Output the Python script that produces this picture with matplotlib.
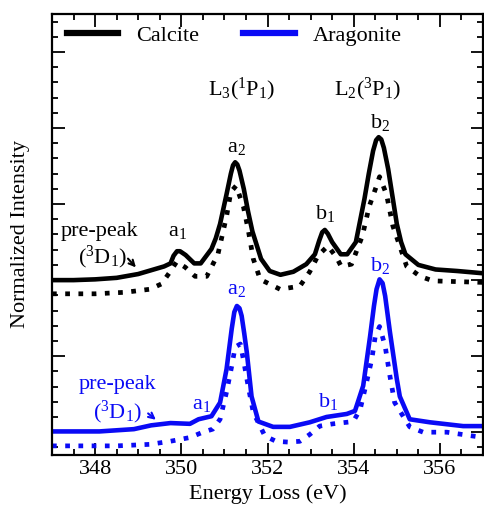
import numpy as np
import matplotlib
matplotlib.use("Agg")
import matplotlib.pyplot as plt
from matplotlib.ticker import MultipleLocator

plt.rcParams['font.family'] = ['Liberation Serif', 'DejaVu Serif']
plt.rcParams['mathtext.default'] = 'regular'

# Calcite, solid line
cal_e = [347.0, 347.5, 348.0, 348.5, 349.0, 349.3, 349.6, 349.75, 349.82, 349.9,
         349.97, 350.1, 350.3, 350.45, 350.7, 350.8, 350.9, 351.05, 351.15, 351.2,
         351.25, 351.3, 351.35, 351.45, 351.55, 351.65, 351.85, 352.05, 352.3, 352.6,
         352.9, 353.1, 353.2, 353.27, 353.33, 353.4, 353.5, 353.7, 353.85, 354.05,
         354.25, 354.35, 354.45, 354.52, 354.58, 354.64, 354.7, 354.8, 354.9, 355.0,
         355.1, 355.2, 355.5, 355.9, 356.4, 357.0]
cal_i = [2.00, 2.00, 2.01, 2.03, 2.08, 2.13, 2.18, 2.22, 2.32, 2.38,
         2.38, 2.33, 2.22, 2.22, 2.41, 2.55, 2.74, 3.13, 3.40, 3.51,
         3.55, 3.52, 3.44, 3.20, 2.90, 2.64, 2.28, 2.12, 2.07, 2.11,
         2.21, 2.34, 2.52, 2.63, 2.66, 2.61, 2.50, 2.34, 2.34, 2.50,
         3.07, 3.40, 3.70, 3.84, 3.88, 3.85, 3.74, 3.46, 3.10, 2.74,
         2.50, 2.34, 2.20, 2.14, 2.12, 2.09]

# Calcite, dotted line
cal_e2 = [347.0, 348.0, 348.7, 349.27, 349.54, 349.74, 349.89, 350.09, 350.32, 350.59,
          350.85, 351.05, 351.15, 351.27, 351.44, 351.55, 351.67, 351.83, 352.29, 352.75,
          352.98, 353.17, 353.4, 353.6, 353.71, 353.95, 354.2, 354.36, 354.53, 354.6,
          354.76, 354.91, 355.23, 355.54, 355.84, 357.0]
cal_i2 = [1.82, 1.82, 1.84, 1.88, 1.95, 2.11, 2.24, 2.17, 2.05, 2.05,
          2.34, 2.84, 3.16, 3.24, 2.97, 2.67, 2.28, 2.01, 1.88, 1.92,
          2.11, 2.32, 2.45, 2.30, 2.18, 2.21, 2.58, 2.97, 3.24, 3.36,
          3.13, 2.71, 2.18, 2.05, 1.99, 1.97]

# Aragonite, solid line
ara_e = [347.0, 348.1, 348.9, 349.3, 349.75, 350.2, 350.4, 350.7, 350.9, 351.05,
         351.17, 351.23, 351.29, 351.35, 351.4, 351.46, 351.52, 351.63, 351.79, 352.13,
         352.52, 352.98, 353.37, 353.84, 354.03, 354.22, 354.38, 354.47, 354.53, 354.6,
         354.67, 354.73, 354.84, 355.0, 355.07, 355.3, 355.77, 356.54, 357.0]
ara_i = [0.01, 0.01, 0.04, 0.09, 0.12, 0.11, 0.17, 0.21, 0.39, 0.83,
         1.36, 1.58, 1.66, 1.63, 1.53, 1.30, 1.05, 0.47, 0.14, 0.07,
         0.07, 0.13, 0.20, 0.24, 0.28, 0.61, 1.26, 1.66, 1.88, 2.01,
         1.96, 1.79, 1.32, 0.70, 0.47, 0.17, 0.13, 0.08, 0.08]

# Aragonite, dotted line
ara_e2 = [347.0, 348.5, 349.27, 349.74, 350.2, 350.5, 350.73, 350.9, 351.05, 351.17,
          351.25, 351.37, 351.44, 351.55, 351.67, 351.94, 352.2, 352.47, 352.75, 352.98,
          353.21, 353.52, 353.99, 354.15, 354.3, 354.42, 354.5, 354.6, 354.73, 354.84,
          354.95, 355.3, 355.61, 356.16, 357.0]
ara_i2 = [-0.18, -0.18, -0.16, -0.12, -0.07, 0.00, 0.04, 0.17, 0.53, 0.87,
          1.12, 1.16, 0.96, 0.61, 0.26, -0.05, -0.12, -0.13, -0.12, -0.03,
          0.08, 0.11, 0.14, 0.30, 0.66, 0.96, 1.26, 1.39, 1.13, 0.74,
          0.39, 0.07, 0.00, 0.00, -0.07]

fig = plt.figure(figsize=(4.85, 5.16), dpi=100)
ax = fig.add_axes([52/485, 61/516, 431/485, 441/516])

blue = '#0a0af5'
dots = (0, (1, 1.8))
ax.plot(cal_e2, cal_i2, color='black', lw=3.4, ls=dots)
ax.plot(ara_e2, ara_i2, color=blue, lw=3.4, ls=dots)
ax.plot(cal_e, cal_i, color='black', lw=3.3, label='Calcite', solid_joinstyle='round')
ax.plot(ara_e, ara_i, color=blue, lw=3.3, label='Aragonite', solid_joinstyle='round')

ax.set_xlim(347, 357)
ax.set_ylim(-0.3, 5.5)
ax.xaxis.set_major_locator(MultipleLocator(2))
ax.xaxis.set_minor_locator(MultipleLocator(0.5))
ax.yaxis.set_major_locator(MultipleLocator(1))
ax.yaxis.set_minor_locator(MultipleLocator(0.2))
ax.tick_params(which='both', direction='in', top=True, right=True, width=1.3,
               labelsize=16)
ax.tick_params(which='major', length=9)
ax.tick_params(which='minor', length=4.5)
ax.set_yticklabels([])
for s in ax.spines.values():
    s.set_linewidth(1.6)

ax.set_xlabel('Energy Loss (eV)', fontsize=16, labelpad=4)
ax.set_ylabel('Normalized Intensity', fontsize=16, labelpad=12)

leg = ax.legend(loc='upper left', bbox_to_anchor=(0.035, 0.975), ncol=2,
                frameon=False, fontsize=16, handlelength=2.3, handletextpad=0.8,
                columnspacing=2.0, borderaxespad=0, borderpad=0)
for h in leg.get_lines():
    h.set_linewidth(4.5)

fs = 16
ax.text(351.41, 4.51, r'L$_3$($^1$P$_1$)', fontsize=fs, ha='center', va='center')
ax.text(354.33, 4.51, r'L$_2$($^3$P$_1$)', fontsize=fs, ha='center', va='center')

ax.text(349.92, 2.64, r'a$_1$', fontsize=fs, ha='center', va='center')
ax.text(351.27, 3.74, r'a$_2$', fontsize=fs, ha='center', va='center')
ax.text(353.33, 2.87, r'b$_1$', fontsize=fs, ha='center', va='center')
ax.text(354.61, 4.07, r'b$_2$', fontsize=fs, ha='center', va='center')
ax.text(348.11, 2.64, 'pre-peak', fontsize=fs, ha='center', va='center')
ax.text(348.18, 2.30, r'($^3$D$_1$)', fontsize=fs, ha='center', va='center')
ax.annotate('', xy=(348.99, 2.14), xytext=(348.72, 2.31),
            arrowprops=dict(arrowstyle='->', color='black', lw=1.5))

ax.text(350.48, 0.37, r'a$_1$', fontsize=fs, ha='center', va='center', color=blue)
ax.text(351.27, 1.88, r'a$_2$', fontsize=fs, ha='center', va='center', color=blue)
ax.text(353.40, 0.41, r'b$_1$', fontsize=fs, ha='center', va='center', color=blue)
ax.text(354.61, 2.19, r'b$_2$', fontsize=fs, ha='center', va='center', color=blue)
ax.text(348.53, 0.63, 'pre-peak', fontsize=fs, ha='center', va='center', color=blue)
ax.text(348.53, 0.26, r'($^3$D$_1$)', fontsize=fs, ha='center', va='center', color=blue)
ax.annotate('', xy=(349.46, 0.14), xytext=(349.18, 0.27),
            arrowprops=dict(arrowstyle='->', color=blue, lw=1.5))

fig.savefig('out.png', dpi=100)
